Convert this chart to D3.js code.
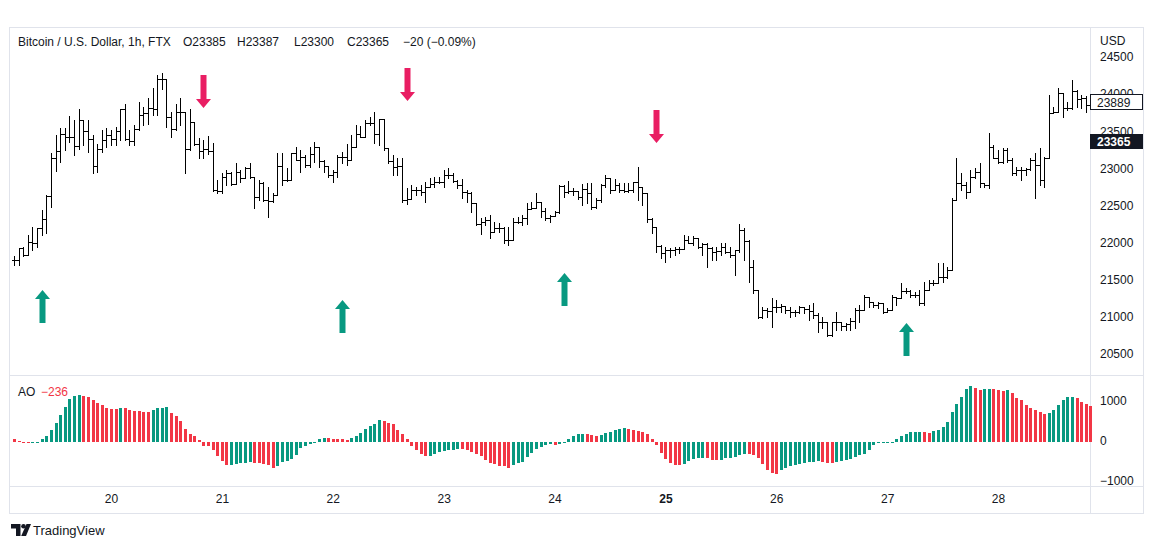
<!DOCTYPE html>
<html>
<head>
<meta charset="utf-8">
<script src="https://cdn.jsdelivr.net/npm/d3@7"></script>
<style>
  body { margin: 0; background: #fff; }
  text { font-family: "Liberation Sans", Arial, sans-serif; }
</style>
</head>
<body>
<div id="chart"></div>
<script>
// hourly bars, BTC/USD on FTX, 19 Jul 03:00 -> 28 Jul 20:00
const firstBar = '2022-07-19 03:00';

const open = [
  21760,21770,21923,21840,22013,21990,22192,22318,22628,23135,
  23234,23458,23427,23427,23306,23651,23508,23395,23036,23256,
  23378,23449,23395,23503,23795,23395,23369,23526,23719,23741,
  23808,23795,24203,24203,23696,23526,23764,23764,23256,23620,
  23324,23234,23261,23234,22709,22695,22888,22933,22789,22956,
  22866,23000,22888,22619,22798,22574,22561,22641,23036,22843,
  22843,23202,23112,23157,23045,23200,23292,23099,23036,22910,
  22950,23157,23157,23112,23292,23458,23427,23606,23610,23458,
  23660,23278,23100,23023,23036,22574,22583,22708,22708,22677,
  22753,22789,22821,22810,22910,22910,22830,22776,22677,22663,
  22529,22246,22282,22304,22138,22201,22201,22035,22035,22282,
  22282,22330,22452,22470,22551,22426,22327,22360,22417,22763,
  22678,22700,22690,22620,22720,22664,22485,22574,22776,22866,
  22709,22776,22709,22700,22709,22821,22745,22664,22314,22206,
  21955,21856,21901,21901,21910,21910,22036,22000,22058,21946,
  21982,21923,21879,21892,21937,21879,21834,21901,22170,22027,
  21677,21362,21003,21093,21084,21138,21138,21147,21093,21070,
  21070,21129,21102,21084,21026,20936,20936,20756,20936,20936,
  20880,20900,20950,21090,21093,21273,21205,21160,21183,21071,
  21093,21273,21250,21349,21349,21295,21295,21183,21362,21452,
  21452,21542,21542,21632,22575,22799,22777,22678,22889,22956,
  22799,22777,23293,23136,23082,23248,23113,22934,22979,22979,
  22992,23113,23046,22844,23136,23742,23764,24011,23809,23809,
  24042,23935,23944,23854
];
const high = [
  21824,21932,21946,22103,22215,22192,22439,22641,23202,23449,
  23539,23539,23705,23651,23799,23651,23651,23449,23328,23517,
  23539,23517,23553,23799,23862,23517,23584,23889,23831,23943,
  24078,24257,24280,24203,23764,23862,23943,23764,23799,23629,
  23413,23382,23436,23337,22843,22933,22978,22956,23068,22978,
  23023,23068,22888,22843,22821,22753,22664,23202,23202,23000,
  23202,23292,23247,23180,23292,23360,23292,23112,23036,22978,
  23180,23225,23323,23449,23584,23575,23651,23696,23754,23665,
  23660,23278,23180,23135,23135,22731,22776,22753,22776,22821,
  22865,22888,22888,22978,23000,22933,22843,22856,22708,22677,
  22529,22327,22349,22372,22282,22259,22215,22215,22327,22349,
  22372,22529,22551,22663,22551,22461,22372,22426,22776,22776,
  22835,22731,22700,22790,22808,22799,22596,22790,22911,22866,
  22853,22799,22799,22799,22821,23014,22745,22664,22327,22215,
  21968,21937,21923,21937,21937,22103,22090,22090,22058,21991,
  21991,21937,21946,22000,21991,21937,21901,22251,22193,22036,
  21766,21362,21138,21115,21250,21228,21174,21147,21129,21093,
  21147,21138,21160,21183,21048,21003,20936,20936,21071,20936,
  20914,20981,21116,21160,21295,21273,21205,21205,21183,21116,
  21295,21273,21452,21385,21362,21340,21362,21475,21497,21497,
  21722,21722,21677,22597,23136,22934,22822,22979,23001,23068,
  22799,23472,23315,23248,23270,23270,23136,23024,23024,23001,
  23136,23203,23270,23158,23989,23832,24087,24011,23899,24191,
  24056,23989,23980,23989
];
const low = [
  21699,21699,21824,21833,21901,21946,22103,22125,22484,22964,
  23090,23247,23360,23180,23261,23315,23225,22933,22956,23225,
  23292,23315,23315,23382,23382,23315,23315,23517,23584,23593,
  23719,23719,24069,23562,23427,23517,23584,22933,23250,23315,
  23135,23135,23189,22695,22664,22664,22776,22776,22789,22821,
  22866,22866,22462,22574,22561,22350,22552,22641,22776,22830,
  22840,23112,22955,23023,23023,23090,23023,22955,22888,22821,
  22888,23068,23045,23112,23292,23427,23427,23584,23337,23314,
  23247,23068,22910,22910,22551,22515,22583,22641,22641,22551,
  22753,22753,22798,22753,22865,22821,22731,22596,22551,22417,
  22237,22111,22237,22066,22138,22138,21990,21968,22035,22259,
  22237,22246,22452,22461,22349,22304,22282,22360,22404,22619,
  22664,22642,22583,22507,22529,22449,22462,22552,22754,22664,
  22709,22687,22687,22687,22687,22574,22507,22283,22125,21879,
  21789,21744,21811,21834,21856,21910,21991,21968,21923,21834,
  21677,21766,21766,21834,21856,21811,21564,21879,21766,21475,
  21317,20981,20981,21003,20868,21070,21070,21048,21003,21012,
  21057,21048,20958,20981,20801,20846,20743,20743,20824,20824,
  20824,20824,20846,20936,21093,21138,21138,21116,21048,21071,
  21093,21160,21250,21318,21273,21273,21160,21160,21362,21430,
  21452,21475,21520,21632,22575,22709,22597,22678,22866,22754,
  22754,22732,23136,23068,23068,23091,22911,22911,22844,22911,
  22979,22597,22777,22754,23136,23742,23764,23697,23787,23800,
  23832,23809,23764,23719
];
const close = [
  21770,21923,21840,22013,21990,22192,22318,22628,23135,23234,
  23458,23427,23427,23306,23651,23508,23395,23036,23256,23378,
  23449,23395,23503,23795,23395,23369,23526,23719,23741,23808,
  23795,24203,24203,23696,23526,23764,23764,23256,23620,23324,
  23234,23261,23234,22709,22695,22888,22933,22789,22956,22866,
  23000,22888,22619,22798,22574,22561,22641,23036,22843,22843,
  23202,23112,23157,23045,23200,23292,23099,23036,22910,22950,
  23157,23157,23112,23292,23458,23427,23606,23610,23458,23660,
  23278,23100,23023,23036,22574,22583,22708,22708,22677,22753,
  22789,22821,22810,22910,22910,22830,22776,22677,22663,22529,
  22246,22282,22304,22138,22201,22201,22035,22035,22282,22282,
  22330,22452,22470,22551,22426,22327,22360,22417,22763,22678,
  22700,22690,22620,22720,22664,22485,22574,22776,22866,22709,
  22776,22709,22700,22709,22821,22745,22664,22314,22206,21955,
  21856,21901,21901,21910,21910,22036,22000,22058,21946,21982,
  21923,21879,21892,21937,21879,21834,21901,22170,22027,21677,
  21362,21003,21093,21084,21138,21138,21147,21093,21070,21070,
  21129,21102,21084,21026,20936,20936,20756,20936,20936,20880,
  20900,20950,21090,21093,21273,21205,21160,21183,21071,21093,
  21273,21250,21349,21349,21295,21295,21183,21362,21452,21452,
  21542,21542,21632,22575,22799,22777,22678,22889,22956,22799,
  22777,23293,23136,23082,23248,23113,22934,22979,22979,22992,
  23113,23046,22844,23136,23742,23764,24011,23809,23809,24042,
  23935,23944,23854,23889
];

// Awesome Oscillator, one value per bar
const ao = [
  50,10,-30,-58,-50,-25,58,117,267,458,
  658,850,1058,1133,1150,1133,1108,1017,958,892,
  833,792,790,833,830,783,760,750,735,717,
  767,817,833,840,708,617,492,308,183,133,
  17,-117,-133,-233,-383,-500,-592,-590,-583,-560,
  -545,-530,-540,-550,-575,-600,-667,-625,-525,-500,
  -442,-342,-183,-125,-67,-33,58,83,75,58,
  50,42,33,67,125,200,308,367,433,517,
  500,458,417,283,167,42,-133,-233,-333,-375,
  -367,-317,-283,-250,-233,-217,-208,-210,-233,-275,
  -317,-383,-483,-542,-583,-617,-625,-667,-608,-550,
  -525,-400,-300,-192,-150,-90,-85,-88,-82,-33,
  58,117,183,185,183,158,133,158,200,225,
  267,292,325,292,267,250,225,167,58,-108,
  -292,-442,-550,-608,-610,-567,-500,-458,-433,-430,
  -433,-467,-483,-475,-433,-432,-400,-358,-317,-320,
  -358,-425,-583,-733,-800,-833,-733,-675,-633,-608,
  -583,-550,-533,-517,-508,-525,-550,-555,-525,-500,
  -467,-442,-400,-358,-317,-233,-108,-42,-12,-10,
  -8,58,117,175,233,235,237,233,208,250,
  267,350,475,725,933,1100,1308,1375,1333,1283,
  1292,1308,1292,1267,1260,1283,1200,1075,1017,908,
  825,767,725,683,708,783,908,1017,1100,1102,
  1075,975,917,867
];

// signal arrows: bar index and price of the arrow tip
const arrowsDown = [ {bar: 41, tip: 23813}, {bar: 85, tip: 23907}, {bar: 139, tip: 23342} ];
const arrowsUp = [ {bar: 6, tip: 21362}, {bar: 71, tip: 21227}, {bar: 119, tip: 21591}, {bar: 193, tip: 20918} ];

const priceTicks = [20500, 21000, 21500, 22000, 22500, 23000, 23500, 24000, 24500];
const aoTicks = [-1000, 0, 1000];
const dayTicks = ['2022-07-20','2022-07-21','2022-07-22','2022-07-23','2022-07-24','2022-07-25','2022-07-26','2022-07-27','2022-07-28'];

const headerTitle = 'Bitcoin / U.S. Dollar, 1h, FTX';
const lastQuote = {o: 23385, h: 23387, l: 23300, c: 23365, chg: -20, pct: -0.09};
const aoLast = -236;

const W = 1153, H = 548;
const ink = '#131722', border = '#e0e3eb';
const green = '#089981', red = '#f23645', pink = '#e91e63';
const frame = {left: 9, right: 1143, top: 27, bottom: 513};
const scaleX0 = 1090;       // left edge of price scale
const paneSplit = 375, timeTop = 486;

const svg = d3.select('#chart').append('svg').attr('width', W).attr('height', H);

const parseHour = d3.timeParse('%Y-%m-%d %H:%M');
const parseDay = d3.timeParse('%Y-%m-%d');
const t0 = parseHour(firstBar);
const days = dayTicks.map(parseDay);

const bars = close.map((c, i) => ({
  t: d3.timeHour.offset(t0, i),
  o: open[i], h: high[i], l: low[i], c: c,
  ao: ao[i], rising: i > 0 && ao[i] >= ao[i - 1]
}));

const x = d3.scaleTime().domain([days[0], days[days.length - 1]]).range([111, 998]);
const y = d3.scaleLinear().domain([20500, 24500]).range([354, 57]);
const yAo = d3.scaleLinear().domain([-1000, 1000]).range([481, 401]);
const px = d => Math.round(x(d.t));

let defs = svg.append('defs');
defs.append('clipPath').attr('id', 'clipPrice').append('rect')
  .attr('x', frame.left).attr('y', frame.top).attr('width', scaleX0 - frame.left).attr('height', paneSplit - frame.top);
defs.append('clipPath').attr('id', 'clipAo').append('rect')
  .attr('x', frame.left).attr('y', paneSplit).attr('width', frame.right - frame.left).attr('height', timeTop - paneSplit);

// frame and separators
svg.append('rect').attr('x', frame.left + 0.5).attr('y', frame.top + 0.5)
  .attr('width', frame.right - frame.left).attr('height', frame.bottom - frame.top)
  .attr('fill', 'none').attr('stroke', border);
svg.append('line').attr('x1', scaleX0 + 0.5).attr('x2', scaleX0 + 0.5).attr('y1', frame.top).attr('y2', frame.bottom).attr('stroke', border);
svg.append('line').attr('x1', frame.left).attr('x2', frame.right).attr('y1', paneSplit + 0.5).attr('y2', paneSplit + 0.5).attr('stroke', border);
svg.append('line').attr('x1', frame.left).attr('x2', frame.right).attr('y1', timeTop + 0.5).attr('y2', timeTop + 0.5).attr('stroke', border);

// OHLC bars
svg.append('g').attr('clip-path', 'url(#clipPrice)')
  .selectAll('path').data(bars).join('path')
  .attr('d', d => {
    const cx = px(d) + 0.5;
    const yh = Math.round(y(d.h)), yl = Math.round(y(d.l));
    const yo = Math.round(y(d.o)) + 0.5, yc = Math.round(y(d.c)) + 0.5;
    return `M${cx},${yh}V${yl + 1}M${cx - 2.5},${yo}H${cx}M${cx},${yc}H${cx + 2.5}`;
  })
  .attr('fill', 'none').attr('stroke', '#000').attr('stroke-width', 1)
  .attr('shape-rendering', 'crispEdges');

// arrows
const arrowG = svg.append('g').attr('clip-path', 'url(#clipPrice)');
arrowG.selectAll('path.dn').data(arrowsDown).join('path').attr('class', 'dn')
  .attr('d', d => {
    const cx = px(bars[d.bar]) + 0.5, ty = y(d.tip);
    return `M${cx},${ty}l-7.5,-9h4.5v-24h6v24h4.5z`;
  })
  .attr('fill', pink);
arrowG.selectAll('path.up').data(arrowsUp).join('path').attr('class', 'up')
  .attr('d', d => {
    const cx = px(bars[d.bar]) + 0.5, ty = y(d.tip);
    return `M${cx},${ty}l7.5,9h-4.5v24h-6v-24h-4.5z`;
  })
  .attr('fill', green);

// AO histogram
const zeroY = Math.round(yAo(0)) + 1;
svg.append('g').attr('clip-path', 'url(#clipAo)')
  .selectAll('rect').data(bars).join('rect')
  .attr('x', d => px(d) - 1).attr('width', 3)
  .attr('y', d => d.ao >= 0 ? Math.round(yAo(d.ao)) : zeroY)
  .attr('height', d => Math.max(1, Math.abs(Math.round(yAo(d.ao)) - zeroY + (d.ao >= 0 ? 0 : 0))))
  .attr('fill', d => d.rising ? green : red)
  .attr('shape-rendering', 'crispEdges');

// price scale
const fmt = d3.format('d');
const pAxis = svg.append('g').attr('transform', `translate(${scaleX0},0)`)
  .call(d3.axisRight(y).tickValues(priceTicks).tickSize(0).tickPadding(10).tickFormat(fmt));
pAxis.select('.domain').remove();
pAxis.selectAll('text').attr('fill', ink).style('font-size', '12px');

svg.append('text').attr('x', scaleX0 + 10).attr('y', 45).attr('fill', ink)
  .style('font-size', '12px').text('USD');

// AO scale
const aAxis = svg.append('g').attr('transform', `translate(${scaleX0},0)`).attr('clip-path', 'url(#clipAo)')
  .call(d3.axisRight(yAo).tickValues(aoTicks).tickSize(0).tickPadding(10).tickFormat(d3.format('d')));
aAxis.select('.domain').remove();
aAxis.selectAll('text').attr('fill', ink).style('font-size', '12px');

// time axis
const tAxis = svg.append('g').attr('transform', `translate(0,${timeTop})`)
  .call(d3.axisBottom(x).tickValues(days).tickSize(0).tickPadding(8).tickFormat(d3.timeFormat('%-d')));
tAxis.select('.domain').remove();
tAxis.selectAll('text').attr('fill', ink).style('font-size', '12px')
  .style('font-weight', d => d.getDay() === 1 ? 'bold' : 'normal');

// value labels on the price scale
const lastVisible = bars[bars.length - 1].c;
const lbl = svg.append('g');
const boxW = frame.right - scaleX0;
lbl.append('rect').attr('x', scaleX0 + 0.5).attr('y', Math.round(y(lastVisible)) - 7.5)
  .attr('width', boxW - 1).attr('height', 15).attr('fill', '#fff').attr('stroke', ink);
lbl.append('text').attr('x', scaleX0 + 7).attr('y', Math.round(y(lastVisible)) + 4.5)
  .attr('fill', ink).style('font-size', '12px').text(fmt(lastVisible));
lbl.append('rect').attr('x', scaleX0).attr('y', Math.round(y(lastQuote.c)) - 7)
  .attr('width', boxW).attr('height', 15).attr('fill', ink);
lbl.append('text').attr('x', scaleX0 + 7).attr('y', Math.round(y(lastQuote.c)) + 5)
  .attr('fill', '#fff').style('font-size', '12px').style('font-weight', 'bold').text(fmt(lastQuote.c));

// legend line
const minus = d3.format('d');
const head = [
  {x: 18, s: headerTitle},
  {x: 183, s: 'O' + lastQuote.o},
  {x: 237, s: 'H' + lastQuote.h},
  {x: 294, s: 'L' + lastQuote.l},
  {x: 347, s: 'C' + lastQuote.c},
  {x: 403, s: minus(lastQuote.chg) + ' (' + d3.format('.2f')(lastQuote.pct) + '%)'}
];
svg.append('g').selectAll('text').data(head).join('text')
  .attr('x', d => d.x).attr('y', 45.5).attr('fill', ink).style('font-size', '12px')
  .text(d => d.s);

svg.append('text').attr('x', 18).attr('y', 395.5).attr('fill', ink).style('font-size', '12px').text('AO');
svg.append('text').attr('x', 41).attr('y', 395.5).attr('fill', red).style('font-size', '12px').text(minus(aoLast));

// TradingView mark
const logo = svg.append('g').attr('fill', ink);
logo.append('path').attr('d', 'M11,524h9.5v12h-4.5v-7.5h-5z');
logo.append('circle').attr('cx', 23.5).attr('cy', 526.3).attr('r', 2.3);
logo.append('path').attr('d', 'M26.5,524h4.5l-5,12h-4.8z');
svg.append('text').attr('x', 33).attr('y', 535).attr('fill', ink).style('font-size', '13px').text('TradingView');
</script>
</body>
</html>
